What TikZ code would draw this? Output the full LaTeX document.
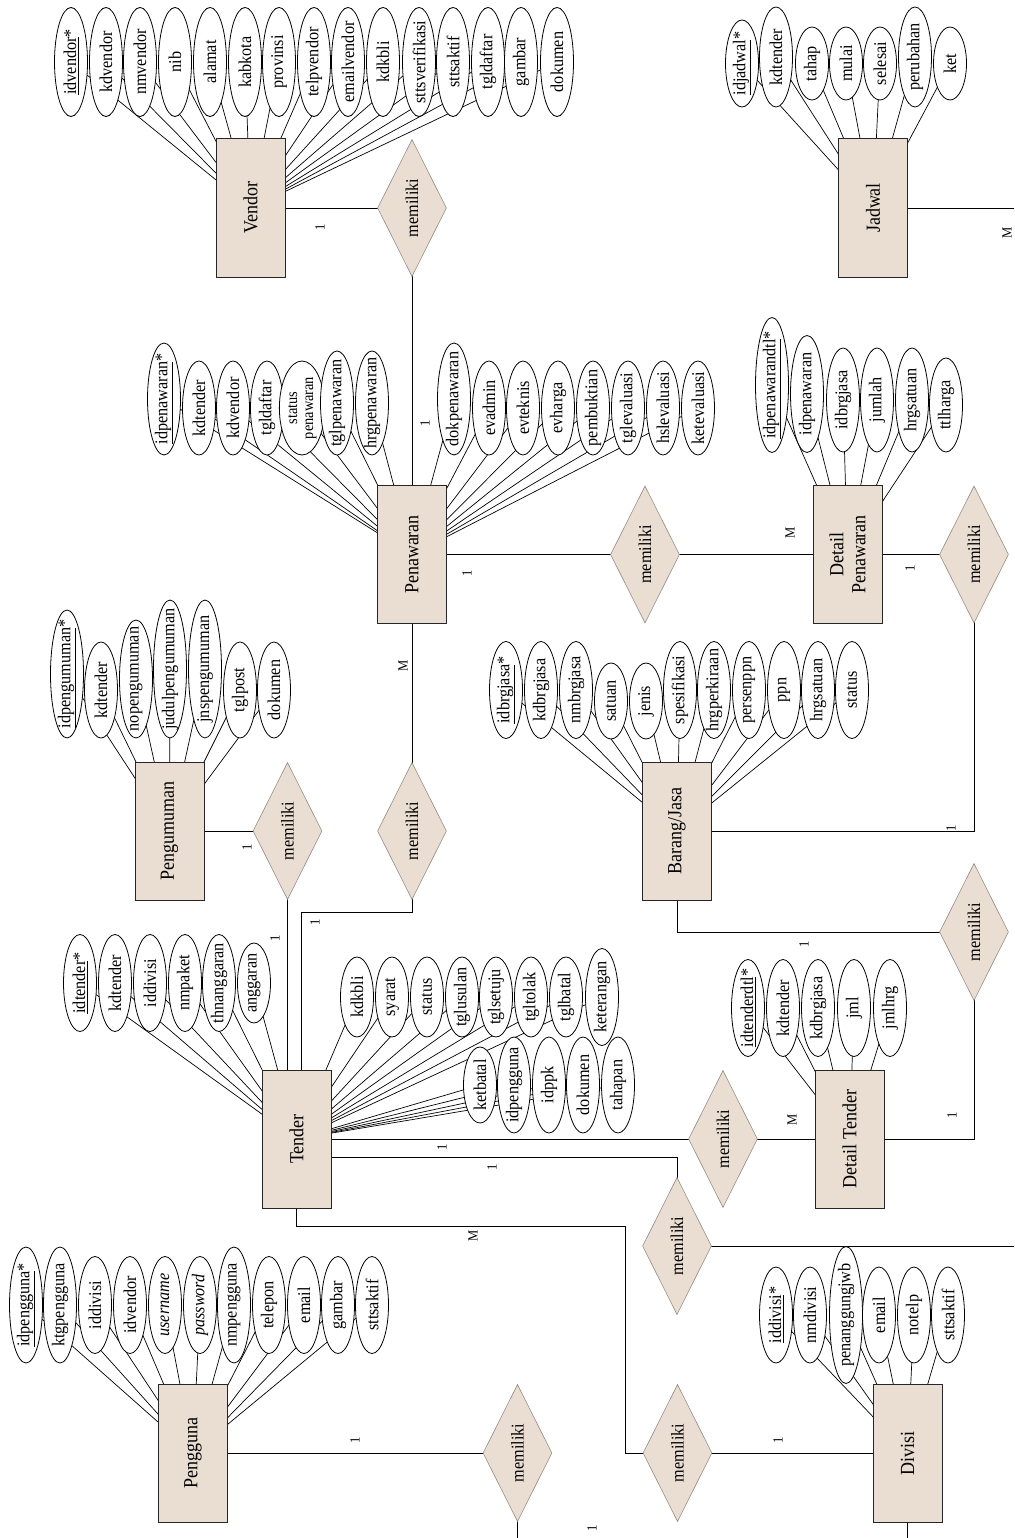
\documentclass[tikz,border=0pt]{standalone}
\usepackage{fontspec}
\newfontfamily\erf{Liberation Serif}[FakeStretch=0.9]
\usetikzlibrary{shapes.geometric}
\pgfdeclarelayer{background}
\pgfsetlayers{background,main}
\definecolor{beige}{RGB}{233,222,209}
\definecolor{dborder}{RGB}{150,140,130}
\tikzset{
 entity/.style={draw=black!85, line width=1pt, fill=beige, rectangle, rotate=90, minimum width=138pt, minimum height=69pt, inner sep=0pt, font=\erf\fontsize{20}{22}\selectfont, align=center},
 rel/.style={draw=dborder, line width=0.6pt, fill=beige, diamond, rotate=90, minimum width=137pt, minimum height=69pt, inner sep=0pt, font=\erf\fontsize{18}{20}\selectfont},
 attrib/.style={draw=black, line width=0.8pt, fill=white, ellipse, rotate=90, minimum height=33pt, inner sep=0pt, font=\erf\fontsize{18}{20}\selectfont},
 conn/.style={draw=black, line width=0.9pt},
 aline/.style={draw=black, line width=0.7pt},
 card/.style={rotate=90, font=\erf\fontsize{14}{14}\selectfont, inner sep=0pt},
}
\newcommand\attr[6]{%
 \node[attrib, minimum width=#4pt] (#1) at (#2,#3) {\makebox[0pt]{#5}};
 \begin{pgfonlayer}{background}\draw[aline] (#1.center) -- (#6.center);\end{pgfonlayer}}
\newcommand\rl[3]{\node[rel] (#1) at (#2,#3) {\makebox[0pt]{memiliki}};}
\begin{document}
\begin{tikzpicture}[x=1pt,y=-1pt]
\useasboundingbox (0,0) rectangle (1014,1538);
% entities
\node[entity] (V) at (250.5,208) {Vendor};
\node[entity] (J) at (873,208) {Jadwal};
\node[entity] (P) at (412,554.5) {Penawaran};
\node[entity] (DP) at (847.5,554.5) {Detail\\Penawaran};
\node[entity] (Pg) at (169.5,831) {Pengumuman};
\node[entity] (B) at (677,831) {Barang/Jasa};
\node[entity] (T) at (296.5,1139) {Tender};
\node[entity] (DT) at (849.5,1139) {Detail Tender};
\node[entity] (Pn) at (193,1453) {Pengguna};
\node[entity] (Dv) at (907.5,1453) {Divisi};
% relationships
\rl{dVP}{412}{208}
\rl{dPg1}{287.5}{831}
\rl{dPT}{412}{831}
\rl{dPD}{645}{554.5}
\rl{dDB}{974}{554.5}
\rl{dTD}{723}{1139}
\rl{dBT}{974}{932}
\rl{dTJ}{677}{1246}
\rl{dPgn}{517.5}{1453}
\rl{dTDv}{677.5}{1453}
% helper coordinates
\coordinate (pt1) at (301,912);
\coordinate (tj) at (677,1157);
\coordinate (tb1) at (625,1226);
\coordinate (eJ) at (1014,1246);
\coordinate (eJad) at (1014,208);
\coordinate (ePg) at (517.5,1538);
\coordinate (eDv) at (907.5,1538);
% connectors
\begin{pgfonlayer}{background}
\draw[conn] (V.center) -- (dVP.center);
\draw[conn] (dVP.center) -- (P.center);
\draw[conn] (P.center) -- (dPD.center);
\draw[conn] (dPD.center) -- (DP.center);
\draw[conn] (DP.center) -- (dDB.center);
\draw[conn] (dDB.center) |- (B.center);
\draw[conn] (B.center) |- (dBT.center);
\draw[conn] (dBT.center) |- (DT.center);
\draw[conn] (P.center) -- (dPT.center);
\draw[conn] (dPT.center) |- (pt1) -- (pt1 |- T.center);
\draw[conn] (Pg.center) -- (dPg1.center);
\draw[conn] (dPg1.center) -- (dPg1.center |- T.center);
\draw[conn] (T.center) -- (dTD.center) -- (DT.center);
\draw[conn] (T.center |- tj) -- (tj) -- (dTJ.center);
\draw[conn] (dTJ.center) -- (eJ);
\draw[conn] (J.center) -- (eJad);
\draw[conn] (T.center) |- (tb1) |- (dTDv.center);
\draw[conn] (dTDv.center) -- (Dv.center);
\draw[conn] (Pn.center) -- (dPgn.center);
\draw[conn] (dPgn.center) -- (ePg);
\draw[conn] (Dv.center) -- (eDv);
\end{pgfonlayer}
% cardinalities
\node[card] (c1) at (320,227) {1};
\node[card] (c2) at (425,423) {1};
\node[card] (c3) at (467,573) {1};
\node[card] (c4) at (790,533) {M};
\node[card] (c5) at (910,568) {1};
\node[card] (c6) at (951,828) {1};
\node[card] (c7) at (403,666) {M};
\node[card] (c8) at (315,922) {1};
\node[card] (c9) at (247,847) {1};
\node[card] (c10) at (275,938) {1};
\node[card] (c11) at (804,944) {1};
\node[card] (c12) at (952,1115) {1};
\node[card] (c13) at (442,1147) {1};
\node[card] (c14) at (792,1120) {M};
\node[card] (c15) at (492,1167) {1};
\node[card] (c16) at (473,1236) {M};
\node[card] (c17) at (778,1440) {1};
\node[card] (c18) at (355,1440) {1};
\node[card] (c19) at (592,1528) {1};
\node[card] (c20) at (1007,233) {M};
% Vendor attributes
\attr{v1}{71}{62}{109}{\underline{idvendor}*}{V}
\attr{v2}{106}{62}{109}{kdvendor}{V}
\attr{v3}{140}{62}{109}{nmvendor}{V}
\attr{v4}{175}{62}{109}{nib}{V}
\attr{v5}{210}{62}{109}{alamat}{V}
\attr{v6}{245}{62}{109}{kabkota}{V}
\attr{v7}{279}{62}{109}{provinsi}{V}
\attr{v8}{314}{62}{109}{telpvendor}{V}
\attr{v9}{348}{62}{109}{emailvendor}{V}
\attr{v10}{383}{62}{109}{kdkbli}{V}
\attr{v11}{419}{62}{109}{sttsverifikasi}{V}
\attr{v12}{453}{62}{109}{sttsaktif}{V}
\attr{v13}{488}{62}{109}{tgldaftar}{V}
\attr{v14}{521}{62}{109}{gambar}{V}
\attr{v15}{557}{62}{109}{dokumen}{V}
% Jadwal attributes
\attr{j1}{742}{63.5}{87}{\underline{idjadwal}*}{J}
\attr{j2}{776}{57}{100}{kdtender}{J}
\attr{j3}{812}{63.5}{73}{tahap}{J}
\attr{j4}{846}{63.5}{73}{mulai}{J}
\attr{j5}{880}{63.5}{73}{selesai}{J}
\attr{j6}{915}{57}{100}{perubahan}{J}
\attr{j7}{950}{63.5}{73}{ket}{J}
% Pengumuman attributes
\attr{g1}{67}{674}{128}{\underline{idpengumuman}*}{Pg}
\attr{g2}{101}{690}{96}{kdtender}{Pg}
\attr{g3}{136}{679}{118}{nopengumuman}{Pg}
\attr{g4}{170}{669}{138}{judulpengumuman}{Pg}
\attr{g5}{205}{669}{138}{jnspengumuman}{Pg}
\attr{g6}{240}{690}{96}{tglpost}{Pg}
\attr{g7}{274}{690}{96}{dokumen}{Pg}
% Penawaran attributes
\attr{p1}{164}{399}{112}{\underline{idpenawaran}*}{P}
\attr{p2}{199}{408}{94}{kdtender}{P}
\attr{p3}{233}{408}{94}{kdvendor}{P}
\attr{p4}{267}{408}{94}{tgldaftar}{P}
\attr{p5}{302}{408}{94}{\fontsize{16}{16}\selectfont\begin{tabular}{@{}c@{}}status\\penawaran\end{tabular}}{P}
\attr{p6}{337}{403}{104}{tglpenawaran}{P}
\attr{p7}{372}{403}{104}{hrgpenawaran}{P}
\attr{p8}{454}{399}{112}{dokpenawaran}{P}
\attr{p9}{489}{408}{94}{evadmin}{P}
\attr{p10}{523}{408}{94}{evteknis}{P}
\attr{p11}{558}{408}{94}{evharga}{P}
\attr{p12}{593}{408}{94}{pembuktian}{P}
\attr{p13}{628}{408}{94}{tglevaluasi}{P}
\attr{p14}{663}{408}{94}{hslevaluasi}{P}
\attr{p15}{698}{408}{94}{ketevaluasi}{P}
% Detail Penawaran attributes
\attr{d1}{772}{385}{135}{\underline{idpenawarandtl}*}{DP}
\attr{d2}{807}{394}{117}{idpenawaran}{DP}
\attr{d3}{843}{400}{104}{idbrgjasa}{DP}
\attr{d4}{877}{400}{104}{jumlah}{DP}
\attr{d5}{912}{400}{104}{hrgsatuan}{DP}
\attr{d6}{946}{405}{94}{ttlharga}{DP}
% Barang/Jasa attributes
\attr{b1}{506}{690}{97}{\underline{idbrgjasa}*}{B}
\attr{b2}{541}{690}{97}{kdbrgjasa}{B}
\attr{b3}{576}{690}{97}{nmbrgjasa}{B}
\attr{b4}{611}{701}{76}{satuan}{B}
\attr{b5}{646}{701}{76}{jenis}{B}
\attr{b6}{680}{690}{97}{spesifikasi}{B}
\attr{b7}{714}{690}{97}{hrgperkiraan}{B}
\attr{b8}{749}{690}{97}{persenppn}{B}
\attr{b9}{784}{690}{97}{ppn}{B}
\attr{b10}{818}{690}{97}{hrgsatuan}{B}
\attr{b11}{852}{690}{97}{status}{B}
% Tender attributes
\attr{t1}{80}{983}{97}{\underline{idtender}*}{T}
\attr{t2}{115}{983}{97}{kdtender}{T}
\attr{t3}{150}{983}{97}{iddivisi}{T}
\attr{t4}{185}{983}{97}{nmpaket}{T}
\attr{t5}{219}{983}{97}{thnanggaran}{T}
\attr{t6}{254}{983}{80}{anggaran}{T}
\attr{t7}{357}{997}{80}{kdkbli}{T}
\attr{t8}{392}{997}{80}{syarat}{T}
\attr{t9}{427}{997}{80}{status}{T}
\attr{t10}{462}{997}{80}{tglusulan}{T}
\attr{t11}{496}{997}{80}{tglsetuju}{T}
\attr{t12}{531}{997}{80}{tgltolak}{T}
\attr{t13}{566}{997}{80}{tglbatal}{T}
\attr{t14}{602}{997}{97}{keterangan}{T}
\attr{t15}{480}{1085}{76}{ketbatal}{T}
\attr{t16}{514}{1085}{96}{idpengguna}{T}
\attr{t17}{549}{1085}{96}{idppk}{T}
\attr{t18}{583}{1085}{96}{dokumen}{T}
\attr{t19}{618}{1085}{96}{tahapan}{T}
% Detail Tender attributes
\attr{e1}{748}{1008}{97}{\underline{idtenderdtl}*}{DT}
\attr{e2}{783}{1008}{97}{kdtender}{DT}
\attr{e3}{818}{1008}{97}{kdbrgjasa}{DT}
\attr{e4}{854}{1008}{97}{jml}{DT}
\attr{e5}{890}{1008}{97}{jmlhrg}{DT}
% Divisi attributes
\attr{i1}{776}{1315}{96}{\underline{iddivisi}*}{Dv}
\attr{i2}{810}{1315}{96}{nmdivisi}{Dv}
\attr{i3}{846}{1315}{137}{penanggungjwb}{Dv}
\attr{i4}{879}{1315}{96}{email}{Dv}
\attr{i5}{914}{1315}{96}{notelp}{Dv}
\attr{i6}{948}{1315}{96}{sttsaktif}{Dv}
% Pengguna attributes
\attr{u1}{26}{1305}{116}{\underline{idpengguna}*}{Pn}
\attr{u2}{60}{1305}{116}{ktgpengguna}{Pn}
\attr{u3}{95}{1305}{97}{iddivisi}{Pn}
\attr{u4}{130}{1305}{97}{idvendor}{Pn}
\attr{u5}{165}{1305}{97}{\itshape username}{Pn}
\attr{u6}{200}{1305}{97}{\itshape password}{Pn}
\attr{u7}{234}{1305}{116}{nmpengguna}{Pn}
\attr{u8}{269}{1305}{97}{telepon}{Pn}
\attr{u9}{304}{1305}{97}{email}{Pn}
\attr{u10}{338}{1305}{97}{gambar}{Pn}
\attr{u11}{372}{1305}{97}{sttsaktif}{Pn}
\end{tikzpicture}
\end{document}
